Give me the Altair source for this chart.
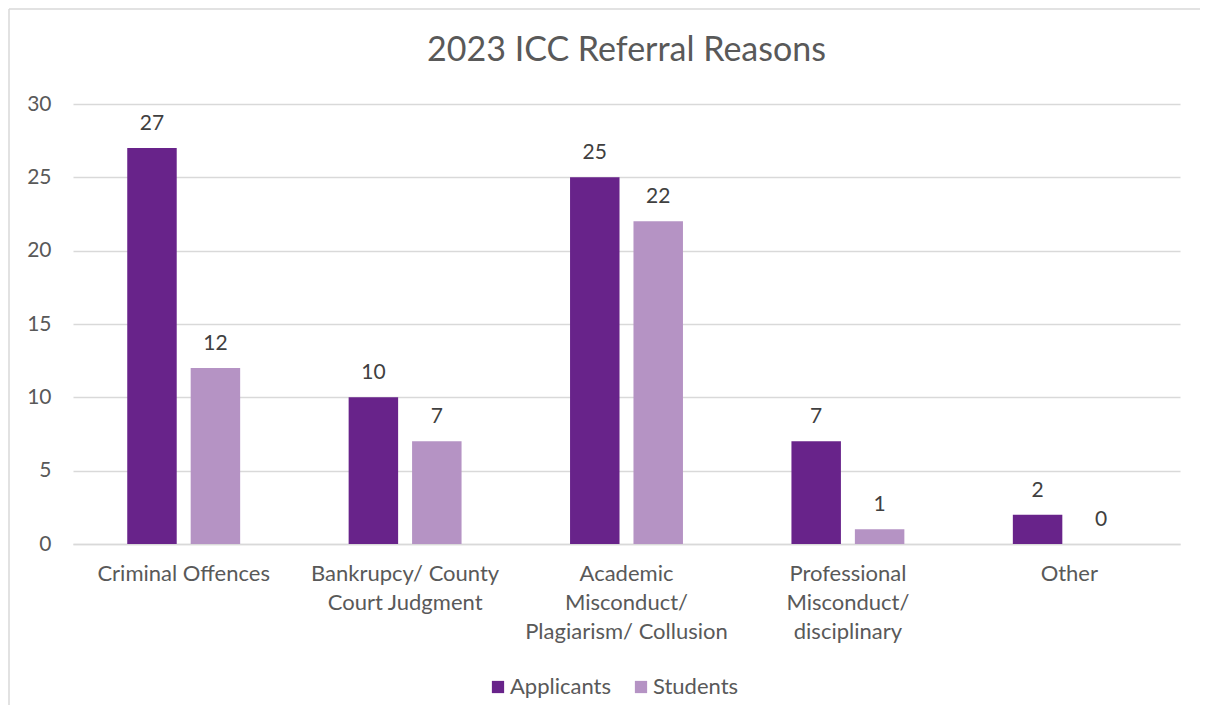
import altair as alt
import pandas as pd

categories = ["Criminal Offences", "Bankrupcy/ County|Court Judgment",
              "Academic|Misconduct/|Plagiarism/ Collusion",
              "Professional|Misconduct/|disciplinary", "Other"]
applicants = [27, 10, 25, 7, 2]
students = [12, 7, 22, 1, 0]
series = ["Applicants", "Students"]
colors = ["#68238A", "#B593C4"]

rows = []
for c, a, s in zip(categories, applicants, students):
    rows.append({"cat": c, "series": "Applicants", "value": a})
    rows.append({"cat": c, "series": "Students", "value": s})
df = pd.DataFrame(rows)

FONT = "Lato"
W, H = 1107, 440

x = alt.X("cat:N", sort=categories, title=None,
          scale=alt.Scale(paddingInner=0.49, paddingOuter=0.245),
          axis=alt.Axis(labelAngle=0, labelExpr="split(datum.label, '|')",
                        labelFontSize=22, labelColor="#595959", labelFont=FONT,
                        labelLineHeight=29, labelPadding=19, labelBaseline="top",
                        labelLimit=400,
                        ticks=False, domainColor="#D9D9D9", domainWidth=1.5,
                        grid=False))
xo = alt.XOffset("series:N", sort=series,
                 scale=alt.Scale(paddingInner=0.22, paddingOuter=0))

y = alt.Y("value:Q", title=None,
          scale=alt.Scale(domain=[0, 30], nice=False),
          axis=alt.Axis(values=[0, 5, 10, 15, 20, 25, 30], labelFontSize=21,
                        labelColor="#595959", labelFont=FONT, labelPadding=22,
                        ticks=False, domain=False, gridColor="#D9D9D9",
                        gridWidth=1.5))

base = alt.Chart(df)

bars = base.mark_bar().encode(
    x=x, xOffset=xo, y=y,
    color=alt.Color("series:N", sort=series,
                    scale=alt.Scale(domain=series, range=colors),
                    legend=alt.Legend(title=None, orient="none", direction="horizontal",
                                      legendX=414, legendY=572, symbolType="square",
                                      symbolSize=150, symbolStrokeWidth=0,
                                      labelFontSize=22, labelFont=FONT,
                                      labelColor="#595959", columnPadding=19,
                                      labelOffset=1))
)

texts = base.mark_text(dy=-14, baseline="bottom", fontSize=21, font=FONT,
                       color="#404040").encode(
    x=x, xOffset=xo, y=y, text="value:Q"
)

one = pd.DataFrame({"v": [0]})
frame_top = alt.Chart(one).mark_rule(stroke="#D9D9D9", strokeWidth=1.5).encode(
    x=alt.value(-64), x2=alt.value(W + 60), y=alt.value(-95))
frame_left = alt.Chart(one).mark_rule(stroke="#D9D9D9", strokeWidth=1.5).encode(
    x=alt.value(-64), y=alt.value(-95), y2=alt.value(H + 200))

chart = alt.layer(frame_top, frame_left, bars, texts).properties(
    width=W, height=H,
    title=alt.TitleParams("2023 ICC Referral Reasons", fontSize=34, font=FONT,
                          fontWeight="normal", color="#595959", anchor="middle",
                          offset=-60),
    autosize=alt.AutoSizeParams(type="none"),
    padding={"left": 65, "top": 96, "right": 20, "bottom": 161},
).configure_view(stroke=None)

chart.save("out.html", embed_options={"renderer": "svg", "actions": False})
